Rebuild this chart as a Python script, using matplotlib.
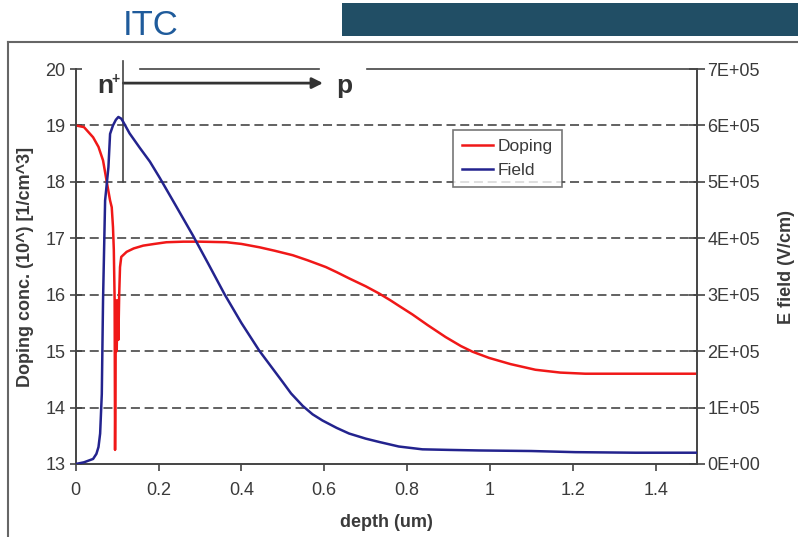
import numpy as np
import matplotlib
matplotlib.use("Agg")
import matplotlib.pyplot as plt
from matplotlib.lines import Line2D
from matplotlib.patches import Rectangle

plt.rcParams['font.family'] = ['Liberation Sans', 'DejaVu Sans']

# ---- data ----
doping_depth = [0, 0.02, 0.042, 0.055, 0.066, 0.075, 0.083, 0.087, 0.090, 0.092,
                0.094, 0.095, 0.0955, 0.097, 0.099, 0.101, 0.103, 0.105, 0.107, 0.110,
                0.123, 0.140, 0.163, 0.190, 0.219, 0.260, 0.300, 0.364, 0.400, 0.444,
                0.480, 0.524, 0.560, 0.604, 0.630, 0.660, 0.700, 0.733, 0.760, 0.781,
                0.813, 0.850, 0.893, 0.930, 0.958, 0.998, 1.050, 1.110, 1.170, 1.230,
                1.300, 1.400, 1.500]
doping_log = [19.0, 18.97, 18.79, 18.62, 18.38, 18.0, 17.67, 17.55, 17.2, 16.8,
              15.9, 13.25, 13.8, 15.9, 15.0, 15.9, 15.2, 16.0, 16.49, 16.67,
              16.76, 16.82, 16.87, 16.9, 16.93, 16.94, 16.94, 16.93, 16.9, 16.84,
              16.78, 16.70, 16.61, 16.49, 16.40, 16.29, 16.15, 16.02, 15.90, 15.80,
              15.65, 15.46, 15.25, 15.09, 14.99, 14.88, 14.77, 14.67, 14.62, 14.6,
              14.6, 14.6, 14.6]

field_depth = [0, 0.02, 0.042, 0.05, 0.055, 0.059, 0.063, 0.066, 0.071, 0.079,
               0.083, 0.090, 0.097, 0.103, 0.110, 0.115, 0.130, 0.155, 0.179, 0.203,
               0.240, 0.283, 0.320, 0.360, 0.400, 0.444, 0.500, 0.520, 0.548, 0.572,
               0.596, 0.630, 0.660, 0.700, 0.733, 0.780, 0.837, 0.900, 0.973, 1.100,
               1.206, 1.350, 1.500]
field_e5 = [0, 0.03, 0.09, 0.18, 0.3, 0.54, 1.24, 2.9, 4.67, 5.26,
            5.85, 6.0, 6.1, 6.15, 6.12, 6.06, 5.86, 5.6, 5.36, 5.07,
            4.6, 4.05, 3.55, 3.0, 2.5, 2.0, 1.45, 1.25, 1.03, 0.88,
            0.77, 0.64, 0.54, 0.45, 0.39, 0.31, 0.26, 0.25, 0.24, 0.23,
            0.21, 0.20, 0.20]
field_vcm = np.array(field_e5) * 1e5

x_ticks = [0, 0.2, 0.4, 0.6, 0.8, 1.0, 1.2, 1.4]
x_ticklabels = ['0', '0.2', '0.4', '0.6', '0.8', '1', '1.2', '1.4']
left_ticks = [13, 14, 15, 16, 17, 18, 19, 20]
right_ticks = [0, 1e5, 2e5, 3e5, 4e5, 5e5, 6e5, 7e5]
right_ticklabels = ['0E+00', '1E+05', '2E+05', '3E+05', '4E+05', '5E+05', '6E+05', '7E+05']
grid_levels = [14, 15, 16, 17, 18, 19]

RED = '#f01818'
BLUE = '#23238e'
AXC = '#444444'
TXT = '#3a3a3a'

W, H = 798, 537
fig = plt.figure(figsize=(W / 100, H / 100), dpi=100)

# header decorations
fig.add_artist(Rectangle((342 / W, 1 - 36 / H), (W - 342) / W, 33 / H,
                         transform=fig.transFigure, facecolor='#214e65', edgecolor='none'))
fig.text(123 / W, 1 - 35 / H, 'ITC', fontsize=25, color='#1f5b9b', va='baseline', ha='left')
fig.add_artist(Line2D([8 / W, 1], [1 - 42 / H, 1 - 42 / H], transform=fig.transFigure,
                      color='#666666', lw=1.5))
fig.add_artist(Line2D([8 / W, 8 / W], [0, 1 - 42 / H], transform=fig.transFigure,
                      color='#666666', lw=1.5))

left_px, right_px, top_px, bot_px = 75.7, 697, 69, 464
ax = fig.add_axes([left_px / W, 1 - bot_px / H, (right_px - left_px) / W, (bot_px - top_px) / H])
ax2 = ax.twinx()

ax.set_xlim(0, 1.5)
ax.set_ylim(13, 20)
ax2.set_ylim(0, 7e5)

for lvl in grid_levels:
    ax.axhline(lvl, color='#555555', lw=1.3, dashes=(5, 2.6), zorder=0)

l1, = ax.plot(doping_depth, doping_log, color=RED, lw=1.8, label='Doping', zorder=3)
l2, = ax2.plot(field_depth, field_vcm, color=BLUE, lw=1.8, label='Field', zorder=3)

ax.set_xticks(x_ticks)
ax.set_xticklabels(x_ticklabels)
ax.set_yticks(left_ticks)
ax2.set_yticks(right_ticks)
ax2.set_yticklabels(right_ticklabels)

for a in (ax, ax2):
    for s in a.spines.values():
        s.set_color(AXC)
        s.set_linewidth(1.2)
    a.spines['top'].set_visible(False)

ax.tick_params(axis='y', direction='inout', length=9, width=1.2, color=AXC,
               labelsize=13, labelcolor=TXT, pad=3)
ax.tick_params(axis='x', direction='out', length=5, width=1.2, color=AXC,
               labelsize=13, labelcolor=TXT, pad=8)
ax2.tick_params(axis='y', direction='inout', length=11, width=1.2, color=AXC,
                labelsize=13, labelcolor=TXT, pad=2)

ax.set_xlabel('depth (um)', fontsize=13, fontweight='bold', color=TXT, labelpad=11)
ax.set_ylabel('Doping conc. (10^) [1/cm^3]', fontsize=13, fontweight='bold', color=TXT, labelpad=8)
ax2.set_ylabel('E field (V/cm)', fontsize=13, fontweight='bold', color=TXT, labelpad=13)

# partial top border
ax.plot([0.155, 0.588], [20, 20], color=AXC, lw=1.2, clip_on=False, zorder=4)
ax.plot([0.704, 1.5], [20, 20], color=AXC, lw=1.2, clip_on=False, zorder=4)

# junction marker and arrow
ax.plot([0.115, 0.115], [18.0, 20.15], color=AXC, lw=1.2, clip_on=False, zorder=4)
ax.annotate('', xy=(0.597, 19.75), xytext=(0.115, 19.75),
            arrowprops=dict(arrowstyle='-|>', color='#333333', lw=2.0, mutation_scale=16,
                            shrinkA=0, shrinkB=0), annotation_clip=False)
ax.text(0.071, 19.57, 'n', fontsize=19, fontweight='bold', color='#333333',
        ha='center', va='baseline')
ax.text(0.097, 19.82, '+', fontsize=10, fontweight='bold', color='#333333',
        ha='center', va='center')
ax.text(0.648, 19.57, 'p', fontsize=19, fontweight='bold', color='#333333',
        ha='center', va='baseline')

leg = ax2.legend(handles=[l1, l2], loc='upper left', bbox_to_anchor=(0.607, 0.846),
                 borderaxespad=0, fontsize=12.5, frameon=True, fancybox=False,
                 handlelength=1.8, handletextpad=0.3, borderpad=0.5, labelspacing=0.55)
leg.get_frame().set_edgecolor('#555555')
leg.get_frame().set_linewidth(1.2)
for t in leg.get_texts():
    t.set_color(TXT)

fig.savefig('out.png', dpi=100)
